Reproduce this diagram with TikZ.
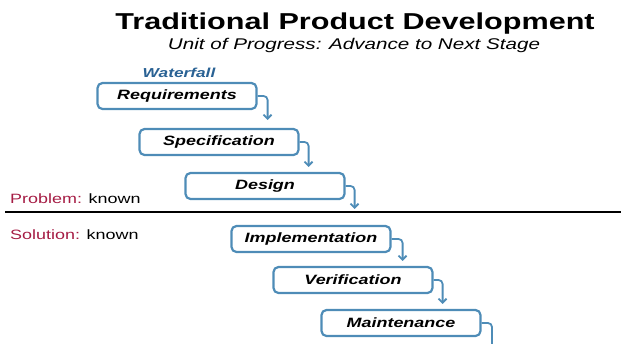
\documentclass[tikz,border=0pt]{standalone}
\usepackage{fontspec}
\setmainfont{Liberation Sans}[FakeStretch=1.33]
\usepackage{tikz}
\usetikzlibrary{arrows.meta}
\definecolor{boxblue}{RGB}{78,140,183}
\definecolor{fallblue}{RGB}{42,98,148}
\definecolor{probred}{RGB}{165,28,68}
\newcommand{\titlefont}{\fontsize{23}{27}\selectfont\bfseries}
\newcommand{\subfont}{\fontsize{15.5}{18}\selectfont\itshape}
\tikzset{
    stage/.style={draw=boxblue, line width=2.2pt, rounded corners=5pt, minimum width=159pt, minimum height=26pt, inner sep=0pt, font=\fontsize{13.5}{16}\selectfont\bfseries\itshape},
    flow/.style={draw=boxblue, line width=1.8pt, rounded corners=4pt, -{Straight Barb[length=4pt,width=8pt]}},
    side/.style={anchor=base west, inner sep=0pt, font=\fontsize{13.5}{15}\selectfont}
}

\begin{document}
\begin{tikzpicture}[x=1pt,y=-1pt]
            \useasboundingbox (0,0) rectangle (621,343);
            \node[anchor=base, inner sep=0pt, font=\titlefont] (title) at (355,29) {Traditional Product Development};
            \node[anchor=base, inner sep=0pt, font=\subfont] (subtitle) at (354,49) {Unit of Progress: Advance to Next Stage};
            \node[anchor=base, inner sep=0pt, text=fallblue, font=\fontsize{13}{15}\selectfont\bfseries\itshape] (fall) at (179,77) {Waterfall};
            % the six stages
            \node[stage] (req) at (177,96) {Requirements};
            \node[stage] (spec) at (219,142) {Specification};
            \node[stage] (des) at (265,186) {Design};
            \node[stage] (impl) at (311,239) {Implementation};
            \node[stage] (ver) at (353,280) {Verification};
            \node[stage] (mnt) at (401,323) {Maintenance};
            \coordinate (mntend) at (492,350);
            \draw[flow] (req.east) -| ([xshift=-32pt,yshift=8pt]spec.north east);
            \draw[flow] (spec.east) -| ([xshift=-37pt,yshift=5pt]des.north east);
            \draw[flow] (des.east) -| ([xshift=-37pt,yshift=16pt]impl.north east);
            \draw[flow] (impl.east) -| ([xshift=-31pt,yshift=5pt]ver.north east);
            \draw[flow] (ver.east) -| ([xshift=-39pt,yshift=5pt]mnt.north east);
            \draw[flow] (mnt.east) -| (mntend);
            % problem / solution divide
            \coordinate (lineL) at (5,212);
            \coordinate (lineR) at (621,212);
            \draw[line width=2.2pt] (lineL) -- (lineR);
            \node[side] (prob) at (10,203) {\textcolor{probred}{Problem:} known};
            \node[side] (sol) at (10,239) {\textcolor{probred}{Solution:} known};
\end{tikzpicture}
\end{document}
